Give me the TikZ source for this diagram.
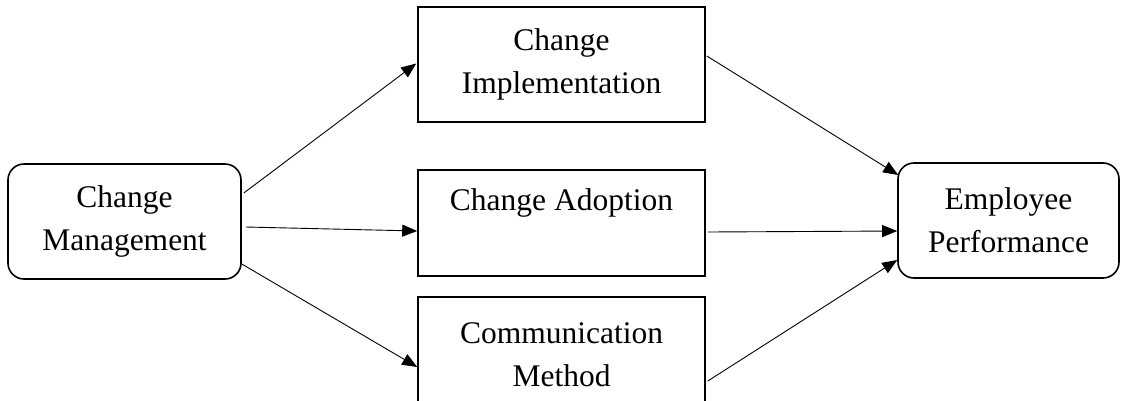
\documentclass[tikz,border=0pt]{standalone}
\usepackage{fontspec}
\setmainfont{Liberation Serif}
\usetikzlibrary{arrows.meta,calc}
\begin{document}
\begin{tikzpicture}[x=1pt,y=-1pt,
  every node/.style={font=\fontsize{31.5}{43}\selectfont, align=center},
  endbox/.style={draw, line width=1.6pt, rounded corners=16pt, minimum width=233pt, minimum height=115pt, inner sep=0pt},
  midbox/.style={draw, line width=1.6pt, minimum width=287pt, minimum height=115pt, inner sep=0pt},
  link/.style={line width=0.9pt, -{Triangle[length=15pt,width=12pt]}}]
\useasboundingbox (0,0) rectangle (1121,400);

% outer variables
\node[endbox] (cm) at (124.5,221.5) {Change\\Management};
\node[endbox, minimum width=221pt] (ep) at (1008.5,220.5) {Employee\\Performance};

% mediating factors
\node[midbox] (ci) at (561.5,64.5) {Change\\Implementation};
\node[draw, line width=1.6pt, minimum width=287pt, inner sep=0pt, text height=40pt, text depth=66pt, anchor=base]
  (ca) at (561.5,210) {Change Adoption};
\node[midbox] (cmm) at (561.5,354.5) {Communication\\Method};

% paths into the mediating boxes
\draw[link] ($(cm.east)+(2,-28.5)$) -- ($(ci.west)+(-1,-1)$);
\draw[link] ($(cm.east)+(4,5.5)$) -- ($(ca.west)+(0,8)$);
\draw[link] ($(cm.east)+(0,42.5)$) -- ($(cmm.west)+(0,12.5)$);

% paths into employee performance
\draw[link] ($(ci.east)+(1,-8.5)$) -- ($(ep.west)+(1,-45.5)$);
\draw[link] ($(ca.east)+(2,9)$) -- ($(ep.west)+(0,10.5)$);
\draw[link] ($(cmm.east)+(2,26.5)$) -- ($(ep.west)+(0,39.5)$);
\end{tikzpicture}
\end{document}
